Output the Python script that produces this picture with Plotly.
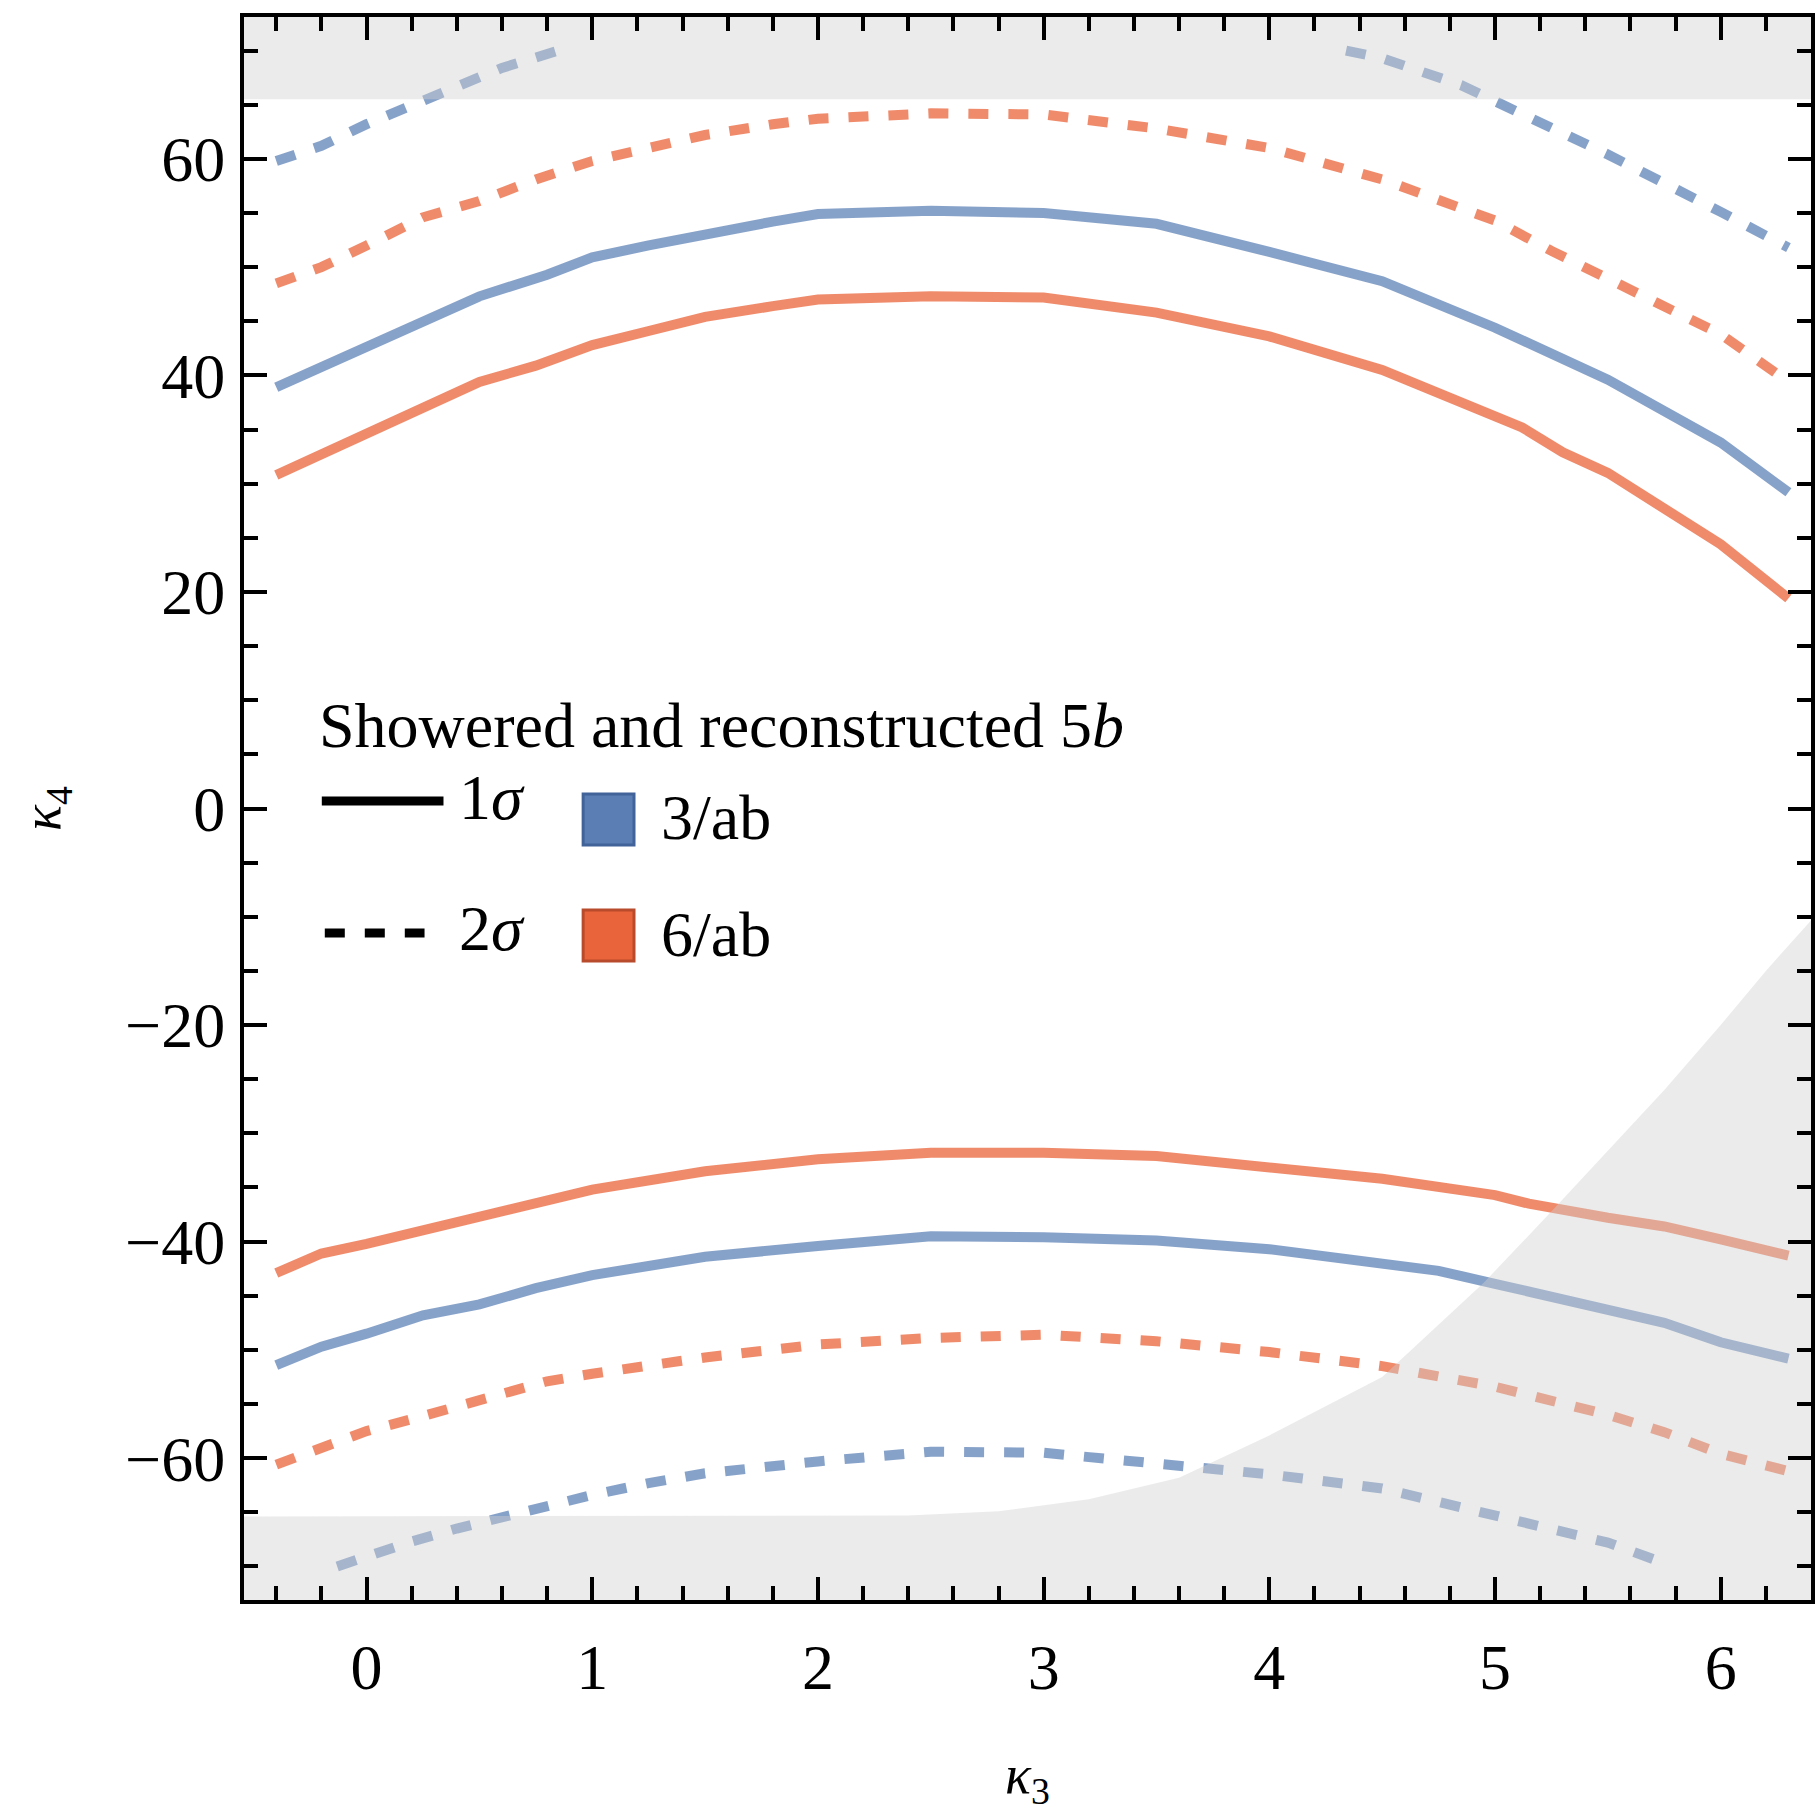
import plotly.graph_objects as go

# ---------------- data ----------------
# 3/ab, 1 sigma, upper branch
b1_up_x = [-0.4, -0.2, 0, 0.2, 0.5, 0.8, 1.0, 1.25, 1.5, 1.8, 2.0, 2.5, 3.0, 3.5, 4.0, 4.5, 5.0, 5.25, 5.5, 6.0, 6.3]
b1_up_y = [38.9, 40.8, 42.8, 44.6, 47.3, 49.3, 50.9, 52.0, 53.1, 54.2, 54.9, 55.2, 55.0, 54.0, 51.4, 48.7, 44.4, 41.9, 39.6, 33.8, 29.2]
# 6/ab, 1 sigma, upper branch
o1_up_x = [-0.4, -0.2, 0, 0.15, 0.3, 0.5, 0.75, 1.0, 1.25, 1.5, 1.8, 2.0, 2.5, 3.0, 3.5, 4.0, 4.5, 5.0, 5.12, 5.3, 5.5, 6.0, 6.3]
o1_up_y = [30.8, 32.7, 34.8, 36.0, 37.5, 39.4, 40.9, 42.8, 44.1, 45.4, 46.4, 47.0, 47.3, 47.2, 45.8, 43.6, 40.5, 36.3, 35.2, 32.9, 31.0, 24.4, 19.4]
# 6/ab, 2 sigma, upper branch
o2_up_x = [-0.4, -0.2, 0, 0.25, 0.5, 0.75, 1.0, 1.25, 1.5, 1.8, 2.0, 2.5, 3.0, 3.5, 4.0, 4.5, 5.0, 5.25, 5.5, 6.0, 6.3]
o2_up_y = [48.5, 50.0, 52.0, 54.6, 56.1, 58.1, 59.8, 60.9, 62.2, 63.2, 63.7, 64.2, 64.1, 62.8, 61.0, 58.1, 54.3, 51.5, 48.9, 43.8, 39.4]
# 3/ab, 2 sigma, upper branch (two pieces, grid ends at 70)
b2_up_x = [-0.4, -0.2, 0, 0.2, 0.4, 0.6, 0.85, None, 4.34, 4.5, 4.85, 5.0, 5.25, 5.5, 6.0, 6.3]
b2_up_y = [59.8, 61.2, 63.2, 64.9, 66.6, 68.4, 70.0, None, 70.0, 69.3, 66.8, 65.3, 63.0, 60.4, 55.1, 51.8]
# 6/ab, 1 sigma, lower branch
o1_lo_x = [-0.4, -0.2, 0, 0.5, 0.75, 1.0, 1.5, 2.0, 2.5, 2.8, 3.0, 3.5, 4.0, 4.5, 5.0, 5.15, 5.5, 5.75, 6.0, 6.3]
o1_lo_y = [-42.9, -41.1, -40.2, -37.6, -36.3, -35.2, -33.5, -32.4, -31.8, -31.7, -31.8, -32.1, -33.1, -34.2, -35.7, -36.5, -37.8, -38.6, -39.8, -41.3]
# 3/ab, 1 sigma, lower branch
b1_lo_x = [-0.4, -0.2, 0, 0.25, 0.5, 0.75, 1.0, 1.25, 1.5, 2.0, 2.5, 3.0, 3.5, 4.0, 4.5, 4.75, 5.0, 5.5, 5.75, 6.0, 6.3]
b1_lo_y = [-51.4, -49.7, -48.5, -46.8, -45.8, -44.3, -43.1, -42.3, -41.4, -40.4, -39.5, -39.6, -39.9, -40.7, -42.0, -42.7, -43.9, -46.3, -47.5, -49.3, -50.8]
# 6/ab, 2 sigma, lower branch
o2_lo_x = [-0.4, -0.2, 0, 0.2, 0.5, 0.8, 1.0, 1.25, 1.5, 2.0, 2.5, 3.0, 3.5, 4.0, 4.5, 5.0, 5.5, 5.75, 6.0, 6.3]
o2_lo_y = [-60.6, -59.1, -57.5, -56.4, -54.6, -52.9, -52.2, -51.4, -50.7, -49.5, -48.9, -48.6, -49.2, -50.2, -51.5, -53.4, -56.0, -57.6, -59.6, -61.2]
# 3/ab, 2 sigma, lower branch
b2_lo_x = [-0.13, 0, 0.2, 0.4, 0.6, 0.8, 1.0, 1.25, 1.5, 2.0, 2.5, 3.0, 3.5, 4.0, 4.5, 5.0, 5.5, 5.75]
b2_lo_y = [-70.0, -69.0, -67.7, -66.5, -65.4, -64.3, -63.4, -62.3, -61.4, -60.3, -59.4, -59.5, -60.4, -61.5, -62.8, -65.2, -67.8, -69.7]

# excluded (grey) regions
top_band_x = [-1.0, 7.0, 7.0, -1.0]
top_band_y = [65.5, 65.5, 80.0, 80.0]
low_region_x = [-1.0, 2.4, 2.8, 3.2, 3.6, 4.0, 4.5, 4.95, 5.26, 5.5, 5.75, 6.0, 6.2, 6.41, 6.5, 6.5, -1.0]
low_region_y = [-65.4, -65.3, -64.9, -63.8, -61.8, -57.9, -52.5, -43.8, -37.0, -31.6, -26.0, -20.0, -15.0, -10.1, -8.0, -80.0, -80.0]

x_ticks = [0, 1, 2, 3, 4, 5, 6]
y_ticks = [-60, -40, -20, 0, 20, 40, 60]

# ---------------- styling ----------------
W, H = 1818, 1812
ML, MR, MT, MB = 244, 3, 17, 212
PW, PH = W - ML - MR, H - MT - MB

BLUE = "rgba(91,127,181,0.73)"
ORANGE = "rgba(234,100,58,0.75)"
GREY = "rgba(208,208,208,0.425)"
LW = 10
DASH = "20px,20px"
FONT = "Liberation Serif"


def px(xp):
    return (xp - ML) / PW


def py(yp):
    return (H - MB - yp) / PH


fig = go.Figure()

curves = [
    (b1_up_x, b1_up_y, BLUE, "solid"),
    (o1_up_x, o1_up_y, ORANGE, "solid"),
    (o2_up_x, o2_up_y, ORANGE, DASH),
    (b2_up_x, b2_up_y, BLUE, DASH),
    (o1_lo_x, o1_lo_y, ORANGE, "solid"),
    (b1_lo_x, b1_lo_y, BLUE, "solid"),
    (o2_lo_x, o2_lo_y, ORANGE, DASH),
    (b2_lo_x, b2_lo_y, BLUE, DASH),
]
for cx, cy, col, dash in curves:
    fig.add_trace(go.Scatter(x=cx, y=cy, mode="lines",
                             line=dict(color=col, width=LW, dash=dash),
                             showlegend=False, hoverinfo="skip"))

for gx, gy in [(top_band_x, top_band_y), (low_region_x, low_region_y)]:
    fig.add_trace(go.Scatter(x=gx, y=gy, mode="lines", fill="toself",
                             fillcolor=GREY, line=dict(width=0),
                             showlegend=False, hoverinfo="skip"))

axis_common = dict(
    showgrid=False, zeroline=False,
    showline=True, linecolor="black", linewidth=4, mirror="ticks",
    ticks="inside", ticklen=23, tickwidth=4, tickcolor="black",
    tickfont=dict(family=FONT, size=64, color="black"),
)

fig.update_xaxes(range=[-0.543, 6.40], tickvals=x_ticks,
                 minor=dict(ticks="inside", ticklen=14, tickwidth=4, tickcolor="black", dtick=0.2, tick0=0),
                 ticklabelstandoff=8,
                 title=dict(text="<i>κ</i><sub>3</sub>", font=dict(family=FONT, size=54, color="black"), standoff=60),
                 **axis_common)
fig.update_yaxes(range=[-73.1, 73.1], tickvals=y_ticks,
                 minor=dict(ticks="inside", ticklen=14, tickwidth=4, tickcolor="black", dtick=5, tick0=0),
                 ticklabelstandoff=2,
                 title=dict(text="<i>κ</i><sub>4</sub>", font=dict(family=FONT, size=54, color="black"), standoff=48),
                 **axis_common)

# ---------------- hand-drawn legend ----------------
LEG_FS = 64
shapes = [
    dict(type="line", xref="paper", yref="paper", x0=px(322), x1=px(444), y0=py(801), y1=py(801),
         line=dict(color="black", width=9)),
    dict(type="line", xref="paper", yref="paper", x0=px(325), x1=px(425), y0=py(933), y1=py(933),
         line=dict(color="black", width=9, dash=DASH)),
    dict(type="rect", xref="paper", yref="paper", x0=px(584), x1=px(635), y0=py(794), y1=py(845),
         fillcolor="#5b7fb5", line=dict(color="#41639a", width=3)),
    dict(type="rect", xref="paper", yref="paper", x0=px(584), x1=px(635), y0=py(910), y1=py(961),
         fillcolor="#e9643a", line=dict(color="#b84b2b", width=3)),
]
annotations = [
    dict(text="Showered and reconstructed 5<i>b</i>", x=px(317), y=py(726)),
    dict(text="1<i>σ</i>", x=px(458), y=py(797)),
    dict(text="2<i>σ</i>", x=px(458), y=py(928)),
    dict(text="3/ab", x=px(660), y=py(818)),
    dict(text="6/ab", x=px(660), y=py(934)),
]
for a in annotations:
    a.update(xref="paper", yref="paper", xanchor="left", yanchor="middle", showarrow=False,
             font=dict(family=FONT, size=LEG_FS, color="black"))

fig.update_layout(
    width=W, height=H,
    margin=dict(l=ML, r=MR, t=MT, b=MB),
    paper_bgcolor="white", plot_bgcolor="white",
    shapes=shapes, annotations=annotations,
    showlegend=False,
)

fig.write_html("out.html")
